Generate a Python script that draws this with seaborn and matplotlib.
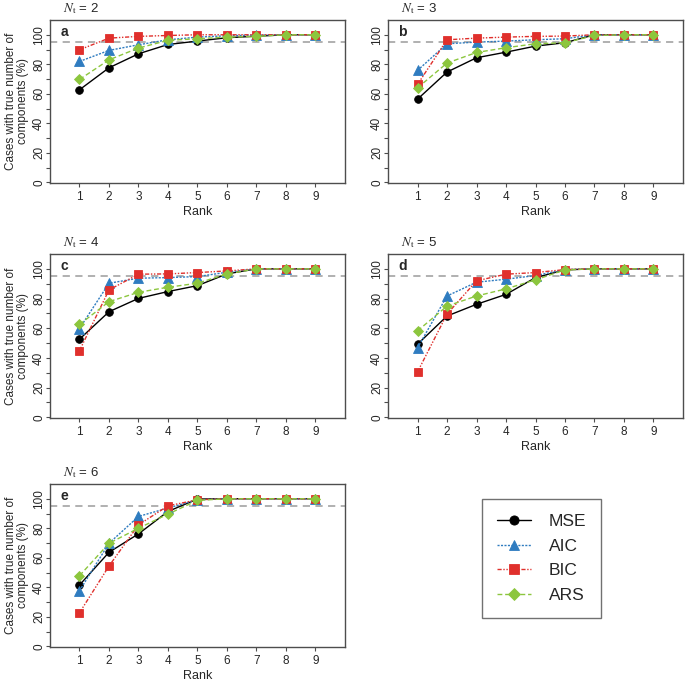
import matplotlib
matplotlib.use("Agg")
import matplotlib.pyplot as plt
import seaborn as sns
import pandas as pd

sns.set_style("ticks")
plt.rcParams['font.family'] = ['Liberation Sans', 'DejaVu Sans']
plt.rcParams['mathtext.fontset'] = 'stix'

ranks = [1, 2, 3, 4, 5, 6, 7, 8, 9]
panel_letters = ["a", "b", "c", "d", "e"]
nt_values = [2, 3, 4, 5, 6]
methods = ["MSE", "AIC", "BIC", "ARS"]

mse_a = [62.7, 77.6, 87.1, 93.4, 95.7, 98.0, 99.0, 100, 100]
aic_a = [81.9, 89.4, 93.2, 96.6, 98.4, 99.3, 99.8, 100, 100]
bic_a = [89.8, 97.7, 98.9, 99.5, 100, 100, 100, 100, 100]
ars_a = [69.7, 83.0, 91.0, 96.2, 97.3, 98.4, 98.9, 100, 100]

mse_b = [56.3, 74.7, 84.4, 88.2, 92.3, 94.6, 100, 100, 100]
aic_b = [75.8, 93.9, 95.0, 95.7, 96.6, 97.3, 100, 100, 100]
bic_b = [66.3, 96.6, 97.7, 98.4, 98.9, 99.1, 100, 100, 100]
ars_b = [64.0, 80.8, 88.0, 91.2, 93.9, 94.6, 99.5, 100, 100]

mse_c = [52.6, 71.1, 80.1, 84.7, 88.7, 96.6, 100, 100, 100]
aic_c = [59.8, 90.3, 93.7, 94.1, 94.8, 97.7, 100, 100, 100]
bic_c = [44.9, 85.8, 96.4, 96.6, 97.5, 98.6, 100, 100, 100]
ars_c = [62.5, 77.9, 84.2, 87.6, 90.3, 96.6, 100, 100, 100]

mse_d = [49.2, 68.2, 76.1, 82.8, 94.1, 99.3, 100, 100, 100]
aic_d = [46.7, 81.7, 91.0, 93.0, 95.5, 99.5, 100, 100, 100]
bic_d = [30.5, 69.5, 91.9, 96.4, 97.5, 99.5, 100, 100, 100]
ars_d = [58.2, 74.9, 81.7, 86.5, 92.6, 99.3, 100, 100, 100]

mse_e = [41.5, 63.7, 76.2, 91.4, 99.8, 100, 100, 100, 100]
aic_e = [37.6, 69.8, 88.0, 93.7, 99.3, 100, 100, 100, 100]
bic_e = [22.7, 54.4, 82.3, 95.2, 99.3, 100, 100, 100, 100]
ars_e = [47.8, 69.8, 80.0, 89.6, 98.9, 100, 100, 100, 100]

panels = [
    [mse_a, aic_a, bic_a, ars_a],
    [mse_b, aic_b, bic_b, ars_b],
    [mse_c, aic_c, bic_c, ars_c],
    [mse_d, aic_d, bic_d, ars_d],
    [mse_e, aic_e, bic_e, ars_e],
]

colors = {"MSE": "#000000", "AIC": "#2F7CC0", "BIC": "#E0302C", "ARS": "#8CC63E"}
markers = {"MSE": "o", "AIC": "^", "BIC": "s", "ARS": "D"}
msizes = {"MSE": 5.5, "AIC": 6.5, "BIC": 5.5, "ARS": 5.5}
lstyles = {"MSE": "-", "AIC": (0, (1.5, 1)), "BIC": (0, (3, 1.2, 1, 1.2, 1, 1.2)), "ARS": (0, (3.5, 2))}

fig = plt.figure(figsize=(6.85, 6.82), dpi=100)
W, H = 685, 682
boxes = [
    (50, 20, 295, 163),
    (388, 20, 295, 163),
    (50, 254, 295, 164),
    (388, 254, 295, 164),
    (50, 484, 295, 163),
]
spine_col = "#4D4D4D"
handles = []
for i, (x0, y0, w, h) in enumerate(boxes):
    ax = fig.add_axes([x0 / W, 1 - (y0 + h) / H, w / W, h / H])
    ax.axhline(95, color="#AAAAAA", lw=1.3, ls=(0, (4, 3)), zorder=1)
    for m, vals in zip(methods, panels[i]):
        df = pd.DataFrame({"Rank": ranks, "val": vals})
        sns.lineplot(data=df, x="Rank", y="val", ax=ax, color=colors[m],
                     marker=markers[m], markersize=msizes[m], markeredgewidth=0.6,
                     markeredgecolor=colors[m], linestyle=lstyles[m], lw=1.0,
                     label=m, legend=False, zorder=3)
    ax.set_xlim(0, 10)
    ax.set_ylim(-0.5, 110)
    ax.set_xticks(ranks)
    ax.set_yticks(list(range(0, 101, 10)))
    ax.set_yticklabels([str(v) if v % 20 == 0 else "" for v in range(0, 101, 10)],
                       rotation=90, va="center")
    ax.tick_params(axis="both", labelsize=8.5, length=3.2, width=0.8, color=spine_col)
    ax.tick_params(axis="y", pad=0.3)
    ax.tick_params(axis="x", pad=2.5)
    for s in ax.spines.values():
        s.set_color(spine_col)
        s.set_linewidth(1.0)
    ax.set_xlabel("Rank", fontsize=9, labelpad=2)
    if i in (0, 2, 4):
        ax.set_ylabel("Cases with true number of\ncomponents (%)", fontsize=8.5, labelpad=3,
                      linespacing=1.0)
    else:
        ax.set_ylabel("")
    ax.text(0.035, 0.925, panel_letters[i], transform=ax.transAxes, fontsize=10,
            fontweight="bold", va="center", ha="left")
    ax.text(0.045, 1.049, r"$N_{\mathrm{t}}$" + f" = {nt_values[i]}", transform=ax.transAxes,
            fontsize=9.5, va="baseline", ha="left")
    if i == 0:
        handles, labels = ax.get_legend_handles_labels()

leg = fig.legend(handles, labels, loc="upper left",
                 bbox_to_anchor=(482 / W, 1 - 499 / H), frameon=True, fancybox=False,
                 fontsize=12.5, handlelength=2.0, borderpad=0.85, labelspacing=0.55,
                 handletextpad=1.0, borderaxespad=0, markerscale=1.2)
leg.get_frame().set_edgecolor(spine_col)
leg.get_frame().set_linewidth(1.0)

fig.savefig("out.png", dpi=100)
